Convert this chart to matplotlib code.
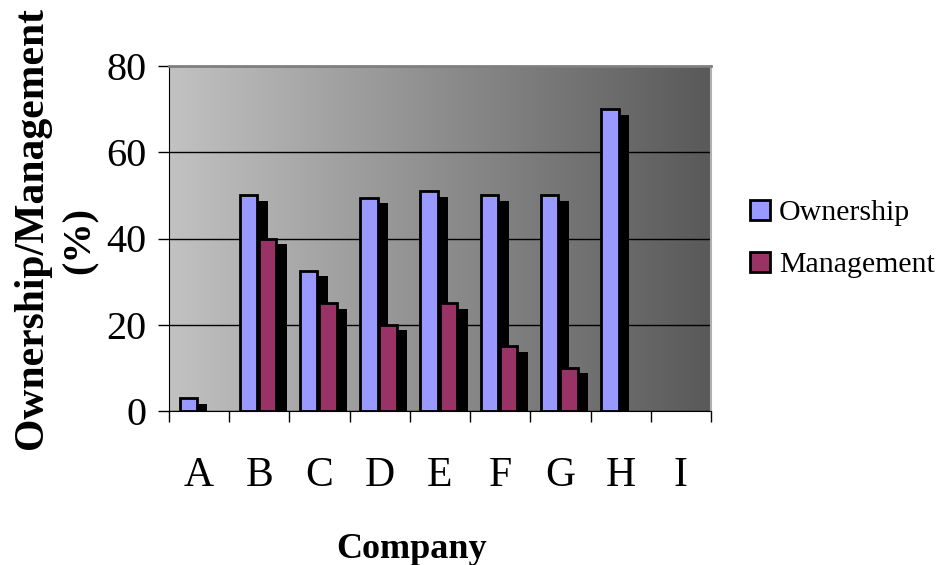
import numpy as np
import matplotlib
matplotlib.use("Agg")
import matplotlib.pyplot as plt
import matplotlib.patheffects as pe
from matplotlib.patches import Patch
from matplotlib.colors import LinearSegmentedColormap

# Data: share (%) per company
companies = ["A", "B", "C", "D", "E", "F", "G", "H", "I"]
ownership = [3, 50, 32.5, 49.5, 51, 50, 50, 70, np.nan]
management = [np.nan, 40, 25, 20, 25, 15, 10, np.nan, np.nan]
y_ticks = [0, 20, 40, 60, 80]

plt.rcParams["font.family"] = ["Liberation Serif", "DejaVu Serif"]

fig = plt.figure(figsize=(9.42, 5.65), dpi=100)
ax = fig.add_axes([169 / 942, 154 / 565, 542 / 942, 345 / 565])

n = len(companies)
x = np.arange(n) + 0.5

# Horizontal grey gradient for the plot area
grad = np.linspace(0, 1, 256).reshape(1, -1)
cmap = LinearSegmentedColormap.from_list("bg", [(0.76, 0.76, 0.76), (0.35, 0.35, 0.35)])
ax.imshow(grad, cmap=cmap, aspect="auto", extent=(0, n, 0, 80), zorder=-1,
          interpolation="bicubic")

shadow = [pe.SimplePatchShadow(offset=(7.5, -4), shadow_rgbFace="black", alpha=1.0),
          pe.Normal()]

width = 0.29
own = np.array(ownership, dtype=float)
mgt = np.array(management, dtype=float)
m1 = np.isfinite(own)
m2 = np.isfinite(mgt)
b1 = ax.bar(x[m1] - 0.18, own[m1], width=width, color="#9999FF",
            edgecolor="black", linewidth=2.0, zorder=2)
b2 = ax.bar(x[m2] + 0.14, mgt[m2], width=width, color="#993366",
            edgecolor="black", linewidth=2.0, zorder=3)
for bar in list(b1) + list(b2):
    bar.set_path_effects(shadow)

ax.set_xlim(0, n)
ax.set_ylim(0, 80)
ax.set_yticks(y_ticks)
ax.set_yticklabels([str(v) for v in y_ticks], fontsize=29)
ax.tick_params(axis="y", direction="out", length=8, width=1, pad=8)

ax.set_xticks(np.arange(n + 1))
ax.set_xticklabels([])
ax.tick_params(axis="x", which="major", direction="out", length=8, width=1)
ax.set_xticks(x, minor=True)
ax.set_xticklabels(companies, minor=True, fontsize=30)
ax.tick_params(axis="x", which="minor", length=0, pad=33)

ax.grid(axis="y", color="black", linewidth=1.0, zorder=1)
ax.set_axisbelow(True)

ax.spines["left"].set_color("black")
ax.spines["bottom"].set_color("black")
ax.spines["top"].set_color("#808080")
ax.spines["top"].set_linewidth(2)
ax.spines["right"].set_color("#b0b0b0")
ax.spines["right"].set_linewidth(1.5)

fig.text(412 / 942, 7 / 565, "Company", ha="center", va="baseline",
         fontsize=26, fontweight="bold")
fig.text(42 / 942, 116 / 565, "Ownership/Management", rotation=90,
         rotation_mode="anchor", ha="left", va="baseline",
         fontsize=30, fontweight="bold")
fig.text(90 / 942, 1 - 240 / 565, "(%)", rotation=90,
         rotation_mode="anchor", ha="center", va="baseline",
         fontsize=29, fontweight="bold")

handles = [Patch(facecolor="#9999FF", edgecolor="black", linewidth=2.0),
           Patch(facecolor="#993366", edgecolor="black", linewidth=2.0)]
fig.legend(handles, ["Ownership", "Management"], loc="center left",
           bbox_to_anchor=(750 / 942, 1 - 239 / 565), frameon=False,
           fontsize=21.5, handlelength=0.66, handleheight=0.66,
           handletextpad=0.3, labelspacing=0.85, borderpad=0,
           borderaxespad=0)

fig.savefig("out.png", dpi=100)
